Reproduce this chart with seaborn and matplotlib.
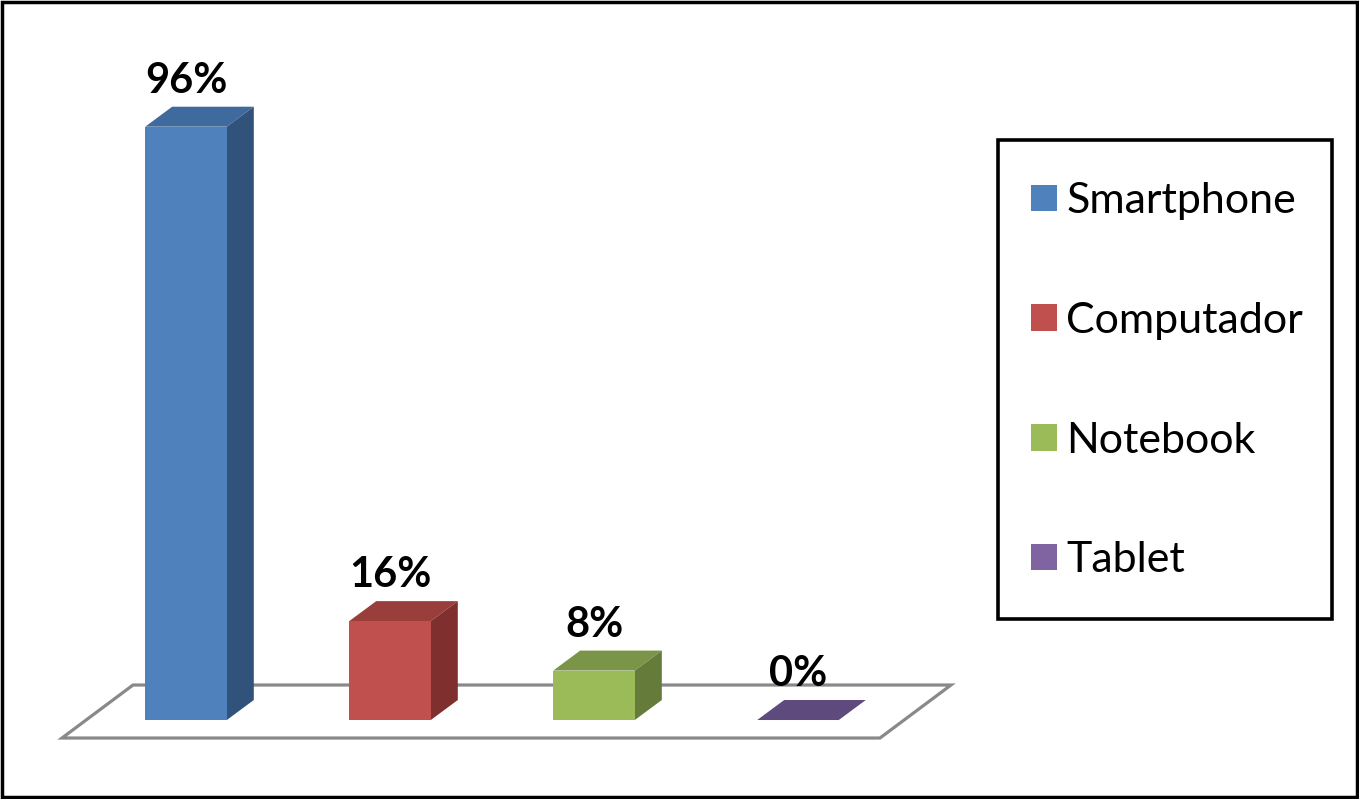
import numpy as np
import matplotlib
matplotlib.use('Agg')
import matplotlib.pyplot as plt
import seaborn as sns
from matplotlib.patches import Polygon, Rectangle, Patch

categories = ['Smartphone', 'Computador', 'Notebook', 'Tablet']
values = [96, 16, 8, 0]
labels = ['96%', '16%', '8%', '0%']
front_colors = ['#4F81BD', '#C0504D', '#9BBB59', '#8064A2']
top_colors = ['#3F6A9D', '#9A3E3B', '#7A9547', '#5F4A7D']
side_colors = ['#31527A', '#7F302E', '#657B3A', '#4D3B64']

sns.set_theme(style='white')
plt.rcParams['font.family'] = ['Lato', 'DejaVu Sans']

W, H = 1359, 799
fig = plt.figure(figsize=(W / 100, H / 100), dpi=100)
ax = fig.add_axes([0, 0, 1, 1])
sns.barplot(x=categories, y=values, hue=categories, palette=front_colors,
            width=0.4, ax=ax, legend=False, saturation=1, edgecolor='none')
ax.set_xlim(-0.9118, 5.750)
ax.set_ylim(-12.78, 116.5)
ax.axis('off')

DX, DY = 27, 20  # 3D depth offset in pixels
T = ax.transData
inv = T.inverted()


def add_poly(pts_disp, **kw):
    pts = inv.transform(np.array(pts_disp, dtype=float))
    p = Polygon(pts, closed=True, **kw)
    ax.add_patch(p)
    return p


# floor (decoration) in display pixels relative to the baseline
base_disp = T.transform((0, 0))[1]
fl_front_y = base_disp - 18
fl_left = 62
fl_right = 880
fsx, fsy = 71, 53
add_poly([(fl_left, fl_front_y), (fl_right, fl_front_y),
          (fl_right + fsx, fl_front_y + fsy), (fl_left + fsx, fl_front_y + fsy)],
         facecolor='white', edgecolor='#898989', linewidth=2.3, zorder=0.5)

bars = [p for p in ax.patches if isinstance(p, Rectangle)][:len(values)]
for i, bar in enumerate(bars):
    bar.set_zorder(3)
    x0, w, h = bar.get_x(), bar.get_width(), bar.get_height()
    (ax0, ay0) = T.transform((x0, 0))
    (ax1, ay1) = T.transform((x0 + w, h))
    # top face
    add_poly([(ax0, ay1), (ax1, ay1), (ax1 + DX, ay1 + DY), (ax0 + DX, ay1 + DY)],
             facecolor=top_colors[i], edgecolor='none', zorder=2)
    # side face
    if h > 0:
        add_poly([(ax1, ay0), (ax1 + DX, ay0 + DY), (ax1 + DX, ay1 + DY), (ax1, ay1)],
                 facecolor=side_colors[i], edgecolor='none', zorder=2)
    ax.annotate(labels[i], xy=(x0 + w / 2, h), xytext=(0, DY + 14),
                textcoords='offset pixels', ha='center', va='baseline',
                fontsize=30, fontweight='bold', color='black', zorder=4)

handles = [Patch(facecolor=c, edgecolor='none', label=cat)
           for c, cat in zip(front_colors, categories)]
leg = ax.legend(handles=handles, loc='upper left',
                bbox_to_anchor=(1031 / W, 1 - 182 / H), bbox_transform=fig.transFigure,
                frameon=False, fontsize=31, labelspacing=1.9,
                handlelength=0.6, handleheight=0.56,
                handletextpad=0.22, borderpad=0, borderaxespad=0)
for t in leg.get_texts():
    t.set_color('black')

# legend box frame
fig.patches.append(Rectangle((998 / W, 1 - 619 / H), (1332 - 998) / W, (619 - 140) / H,
                             transform=fig.transFigure, fill=False,
                             edgecolor='black', linewidth=2.6))

fig.patches.append(Rectangle((0.0015, 0.002), 0.997, 0.995, transform=fig.transFigure,
                             fill=False, edgecolor='black', linewidth=2.5))

fig.savefig('out.png', dpi=100, facecolor='white')
